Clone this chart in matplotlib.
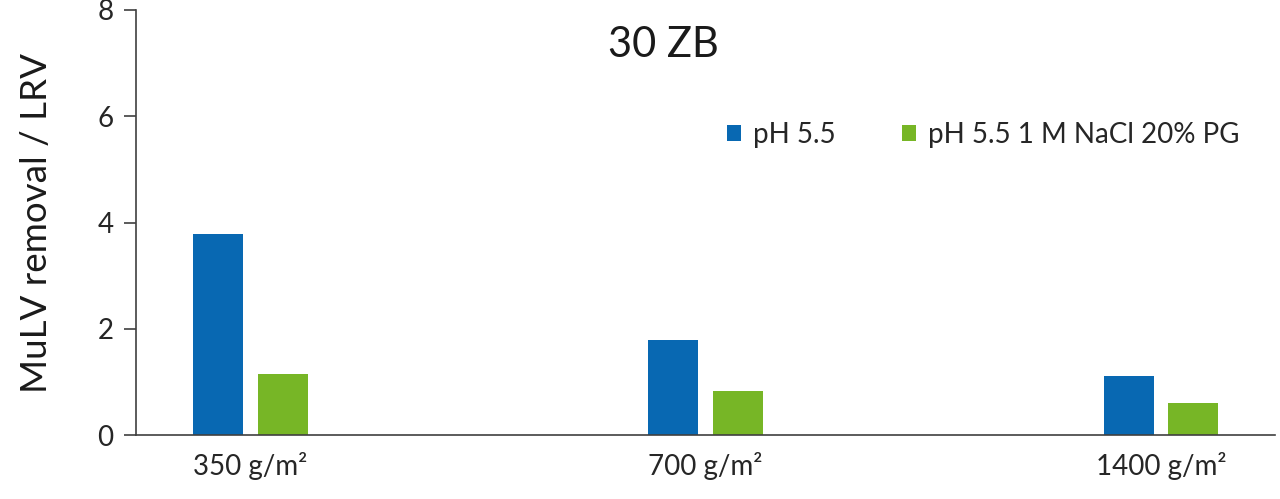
import numpy as np
import matplotlib
matplotlib.use("Agg")
import matplotlib.pyplot as plt

plt.rcParams['font.family'] = ['Lato', 'DejaVu Sans']

categories = ['350 g/m²', '700 g/m²', '1400 g/m²']
series_names = ['pH 5.5', 'pH 5.5 1 M NaCl 20% PG']
ph55 = [3.78, 1.79, 1.11]
ph55_nacl = [1.15, 0.83, 0.60]
colors = ['#0868B2', '#77B626']

fig = plt.figure(figsize=(12.8, 4.99), dpi=100)
ax = fig.add_axes([0.106, 0.128, 0.89, 0.852])

x = np.arange(len(categories))
w = 0.11
ax.bar(x - 0.071, ph55, w, color=colors[0], label=series_names[0])
ax.bar(x + 0.071, ph55_nacl, w, color=colors[1], label=series_names[1])

ax.set_xlim(-0.252, 2.25)
ax.set_ylim(0, 8)
ax.set_yticks([0, 2, 4, 6, 8])
ax.set_xticks(x)
ax.set_xticklabels(categories, fontsize=20, color='#262626')
ax.tick_params(axis='x', length=0, pad=12)
ax.tick_params(axis='y', length=9, width=1.2, direction='out', labelsize=20,
               colors='#404040', labelcolor='#262626', pad=7)

for s in ['top', 'right']:
    ax.spines[s].set_visible(False)
for s in ['left', 'bottom']:
    ax.spines[s].set_color('#404040')
    ax.spines[s].set_linewidth(1.2)

ax.set_ylabel('MuLV removal / LRV', fontsize=26.5, color='#1a1a1a')
ax.yaxis.set_label_coords(-0.073, 0.5)
ax.text(0.463, 0.918, '30 ZB', transform=ax.transAxes, ha='center', va='center',
        fontsize=30, color='#1a1a1a')

ax.legend(loc='center left', bbox_to_anchor=(0.519, 0.706), ncol=2, frameon=False,
          fontsize=20, handlelength=0.5, handleheight=0.5, handletextpad=0.43,
          columnspacing=2.4, borderpad=0, borderaxespad=0, labelcolor='#262626')

fig.savefig('out.png', dpi=100)
